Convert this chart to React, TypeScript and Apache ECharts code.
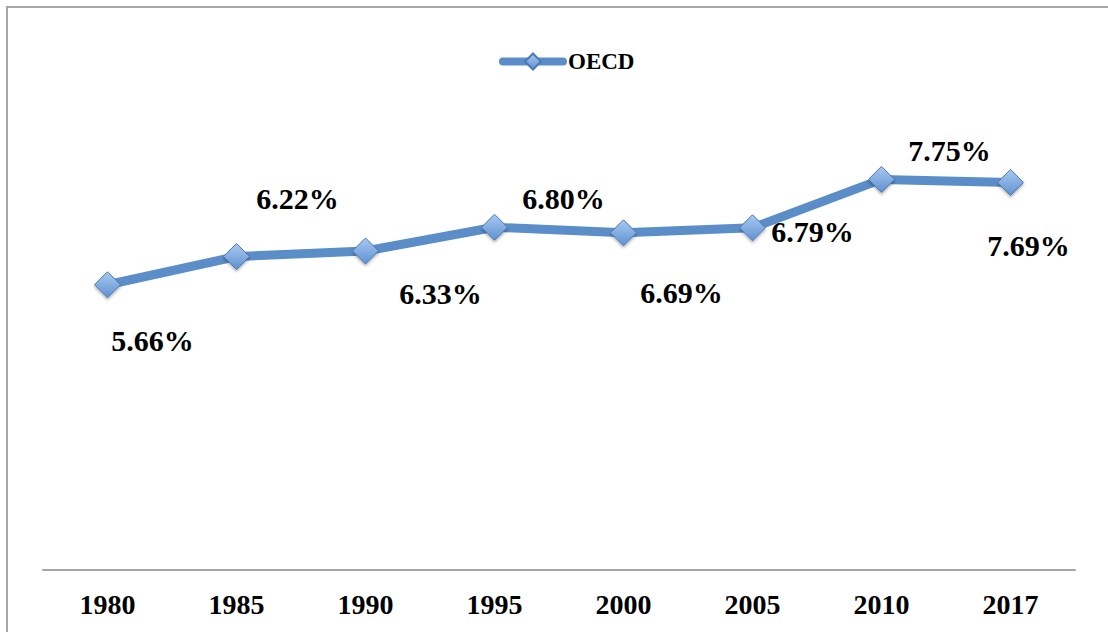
import React, { useEffect, useRef } from "react";
import * as echarts from "echarts";

const categories = ["1980", "1985", "1990", "1995", "2000", "2005", "2010", "2017"];
const oecdValues = [5.66, 6.22, 6.33, 6.8, 6.69, 6.79, 7.75, 7.69];
const seriesName = "OECD";
const labelOffsets: [number, number][] = [
  [45, 56],
  [61, -58],
  [75, 43],
  [69, -29],
  [58, 60],
  [60, 4],
  [68, -29],
  [18, 63],
];

const FONT = "'Liberation Serif', 'DejaVu Serif', serif";

export default function App() {
  const ref = useRef<HTMLDivElement>(null);
  useEffect(() => {
    if (!ref.current) return;
    const chart = echarts.init(ref.current, undefined, { renderer: "svg" });
    chart.setOption({
      animation: false,
      backgroundColor: "#ffffff",
      legend: {
        data: [seriesName],
        left: 494,
        top: 45,
        itemWidth: 60,
        itemHeight: 20,
        itemGap: 2,
        lineStyle: { width: 8, cap: "round", color: "#5b8ec8" },
        textStyle: { fontFamily: FONT, fontWeight: "bold", fontSize: 23, color: "#000" },
      },
      graphic: [
        {
          type: "rect",
          shape: { x: 7, y: 7, width: 1300, height: 800 },
          style: { fill: "none", stroke: "#a6a6a6", lineWidth: 2 },
          silent: true,
        },
      ],
      grid: { left: 43, right: 33, top: 66, bottom: 62 },
      xAxis: {
        type: "category",
        data: categories,
        boundaryGap: true,
        axisLine: { show: true, lineStyle: { color: "#a6a6a6", width: 2 } },
        axisTick: { show: false },
        axisLabel: {
          fontFamily: FONT,
          fontWeight: "bold",
          fontSize: 28,
          color: "#000",
          margin: 20,
        },
        splitLine: { show: false },
      },
      yAxis: {
        type: "value",
        min: 0,
        max: 10,
        show: false,
        splitLine: { show: false },
      },
      series: [
        {
          name: seriesName,
          type: "line",
          data: oecdValues.map((v, i) => ({
            value: v,
            label: { offset: labelOffsets[i] },
          })),
          symbol: "diamond",
          symbolSize: [26, 26],
          lineStyle: { color: "#5b8ec8", width: 9 },
          itemStyle: {
            color: new echarts.graphic.LinearGradient(0, 0, 0, 1, [
              { offset: 0, color: "#a9c9f0" },
              { offset: 1, color: "#5f92d2" },
            ]),
            borderColor: "#4a7ab4",
            borderWidth: 1,
            shadowBlur: 3,
            shadowColor: "rgba(0,0,0,0.3)",
            shadowOffsetY: 2,
          },
          label: {
            show: true,
            position: "inside",
            align: "center",
            verticalAlign: "middle",
            fontFamily: FONT,
            fontWeight: "bold",
            fontSize: 30,
            color: "#000",
            formatter: (p: any) => p.value.toFixed(2) + "%",
          },
        },
      ],
    });
    return () => chart.dispose();
  }, []);
  return (
    <div
      ref={ref}
      style={{ position: "fixed", left: 0, top: 0, width: 1108, height: 632 }}
    />
  );
}
